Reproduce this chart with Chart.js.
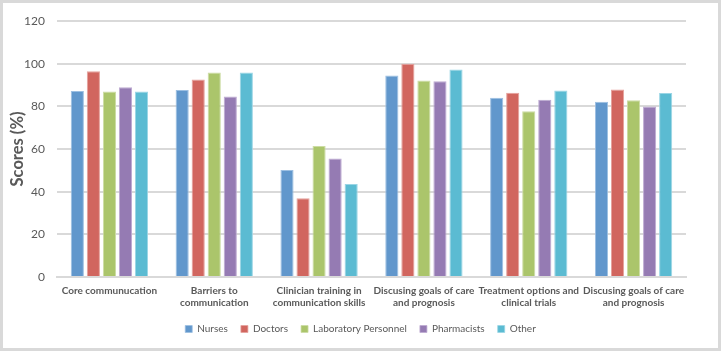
<!DOCTYPE html>
<html>
<head>
<meta charset="utf-8">
<script src="https://cdn.jsdelivr.net/npm/chart.js@4.4.1/dist/chart.umd.min.js"></script>
<style>
  html, body { margin: 0; padding: 0; background: #fff; }
  #wrap { width: 721px; height: 351px; position: relative; }
</style>
</head>
<body>
<div id="wrap"><canvas id="mycanvas" width="721" height="351"></canvas></div>
<script>
// categories and series
var categories = [
  "Core communucation",
  ["Barriers to", "communication"],
  ["Clinician training in", "communication skills"],
  ["Discusing goals of care", "and prognosis"],
  ["Treatment options and", "clinical trials"],
  ["Discusing goals of care", "and prognosis"]
];
var seriesNames = ["Nurses", "Doctors", "Laboratory Personnel", "Pharmacists", "Other"];
var nurses      = [87.2, 87.7, 50.1, 94.4, 84.0, 82.2];
var doctors     = [96.5, 92.6, 36.9, 100.0, 86.4, 87.9];
var labStaff    = [87.0, 95.9, 61.4, 92.1, 77.7, 82.8];
var pharmacists = [88.9, 84.6, 55.6, 91.7, 83.1, 79.9];
var other       = [87.0, 95.9, 43.6, 97.3, 87.4, 86.2];
var yTicks = [0, 20, 40, 60, 80, 100, 120];

var colors = ["#6197CC", "#D1665F", "#ABC56B", "#957BB3", "#5BBBD2"];
var edgeColors = ["#9CBFE2", "#E5A19C", "#CCDCA3", "#BDAAD2", "#9AD5E5"];
var allData = [nurses, doctors, labStaff, pharmacists, other];

var textColor = "#595959";
var font = "Lato, 'Open Sans', sans-serif";

var framePlugin = {
  id: 'frame',
  afterDraw: function(chart) {
    var c = chart.ctx;
    c.save();
    c.strokeStyle = "#D9D9D9";
    c.lineWidth = 3;
    c.strokeRect(1.5, 1.5, chart.width - 3, chart.height - 3);
    c.restore();
  }
};

var datasets = [];
for (var i = 0; i < seriesNames.length; i++) {
  datasets.push({
    label: seriesNames[i],
    data: allData[i],
    backgroundColor: colors[i],
    borderColor: edgeColors[i],
    borderWidth: { left: 1, right: 1, top: 1, bottom: 0 },
    categoryPercentage: 0.765,
    barPercentage: 0.82
  });
}

var ctx = document.getElementById("mycanvas");
new Chart(ctx, {
  type: 'bar',
  data: { labels: categories, datasets: datasets },
  plugins: [framePlugin],
  options: {
    responsive: false,
    animation: false,
    layout: { padding: { left: 8, right: 8, top: 21, bottom: 7 } },
    plugins: {
      tooltip: { enabled: false },
      legend: {
        position: 'bottom',
        labels: {
          boxWidth: 7,
          boxHeight: 7,
          padding: 13,
          color: textColor,
          font: { family: font, size: 10 }
        }
      }
    },
    scales: {
      x: {
        grid: { display: false, drawTicks: false },
        border: { color: "#D9D9D9", width: 2 },
        ticks: {
          color: textColor,
          maxRotation: 0,
          autoSkip: false,
          padding: 8,
          font: { family: font, size: 10, weight: 'bold', lineHeight: 1.2 }
        },
        afterFit: function(s) { s.height = 34; }
      },
      y: {
        min: 0,
        max: 120,
        afterBuildTicks: function(s) { s.ticks = yTicks.map(function(v) { return { value: v }; }); },
        grid: { color: "#D9D9D9", lineWidth: 2, drawTicks: false },
        border: { display: false },
        ticks: {
          color: textColor,
          padding: 12,
          font: { family: font, size: 12 }
        },
        title: {
          display: true,
          text: "Scores (%)",
          color: textColor,
          padding: { top: 0, bottom: 4 },
          font: { family: font, size: 16.5, weight: 'bold' }
        },
        afterFit: function(s) { s.width = 49; }
      },
      // empty right axis, only keeps the right margin so the legend stays centred
      yRight: {
        type: 'linear',
        position: 'right',
        grid: { display: false },
        border: { display: false },
        ticks: { display: false },
        afterFit: function(s) { s.width = 27; }
      }
    }
  }
});
</script>
</body>
</html>
